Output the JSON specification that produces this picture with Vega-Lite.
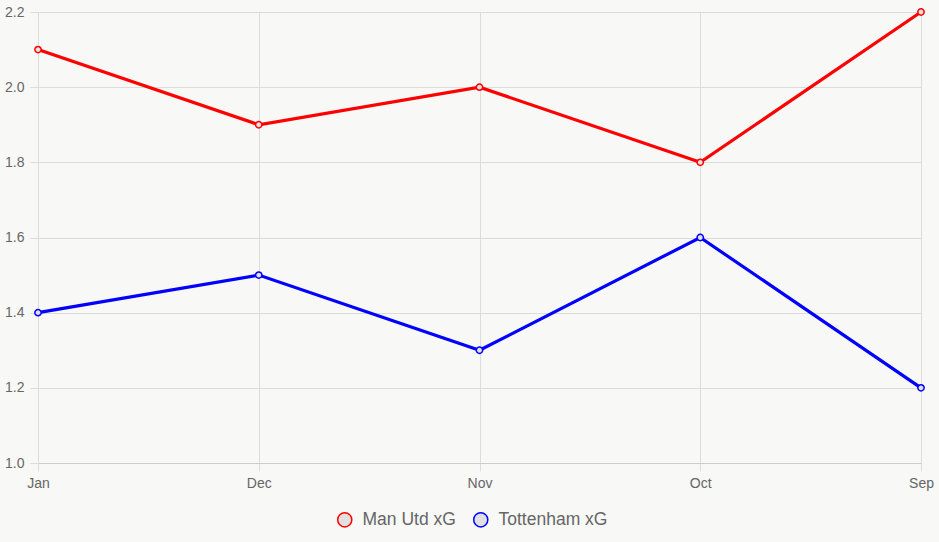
{
  "$schema": "https://vega.github.io/schema/vega-lite/v6.json",
  "width": 883,
  "height": 451,
  "autosize": {"type": "none"},
  "padding": {"left": 38, "top": 12, "right": 18, "bottom": 79},
  "background": "#f8f8f6",
  "config": {
    "view": {"stroke": null},
    "font": "Liberation Sans",
    "axis": {
      "gridColor": "#dcdcdc",
      "gridWidth": 1,
      "domainColor": "#cfcfcf",
      "tickColor": "#dcdcdc",
      "tickSize": 8,
      "labelColor": "#666666",
      "title": null
    }
  },
  "data": {
    "values": [
      {"month": "Jan", "team": "Man Utd xG", "xg": 2.1},
      {"month": "Dec", "team": "Man Utd xG", "xg": 1.9},
      {"month": "Nov", "team": "Man Utd xG", "xg": 2.0},
      {"month": "Oct", "team": "Man Utd xG", "xg": 1.8},
      {"month": "Sep", "team": "Man Utd xG", "xg": 2.2},
      {"month": "Jan", "team": "Tottenham xG", "xg": 1.4},
      {"month": "Dec", "team": "Tottenham xG", "xg": 1.5},
      {"month": "Nov", "team": "Tottenham xG", "xg": 1.3},
      {"month": "Oct", "team": "Tottenham xG", "xg": 1.6},
      {"month": "Sep", "team": "Tottenham xG", "xg": 1.2}
    ]
  },
  "encoding": {
    "x": {
      "field": "month",
      "type": "ordinal",
      "sort": ["Jan", "Dec", "Nov", "Oct", "Sep"],
      "scale": {"type": "point", "padding": 0},
      "axis": {"labelAngle": 0, "grid": true, "labelPadding": 5, "labelFontSize": 14, "domainColor": "#cccccc"}
    },
    "y": {
      "field": "xg",
      "type": "quantitative",
      "scale": {"domain": [1.0, 2.2], "nice": false, "zero": false},
      "axis": {"values": [1.0, 1.2, 1.4, 1.6, 1.8, 2.0, 2.2], "format": ".1f", "labelPadding": 6, "labelFontSize": 14, "domainColor": "#dcdcdc"}
    },
    "color": {
      "field": "team",
      "type": "nominal",
      "scale": {"domain": ["Man Utd xG", "Tottenham xG"], "range": ["#ff0000", "#0000ff"]},
      "legend": {
        "orient": "none",
        "legendX": 298,
        "legendY": 499,
        "direction": "horizontal",
        "title": null,
        "symbolType": "circle",
        "symbolSize": 200,
        "symbolStrokeWidth": 1.5,
        "labelFontSize": 17.5,
        "labelColor": "#666666",
        "labelOffset": 9,
        "columnPadding": 14,
        "encode": {
          "symbols": {"update": {"fill": {"value": "#e0e0e0"}, "strokeWidth": {"value": 1.5}}}
        }
      }
    }
  },
  "layer": [
    {"mark": {"type": "line", "strokeWidth": 3.2}},
    {"mark": {"type": "point", "filled": false, "fill": "#e0e0e0", "fillOpacity": 1, "size": 40, "strokeWidth": 1.5, "opacity": 1}}
  ]
}
